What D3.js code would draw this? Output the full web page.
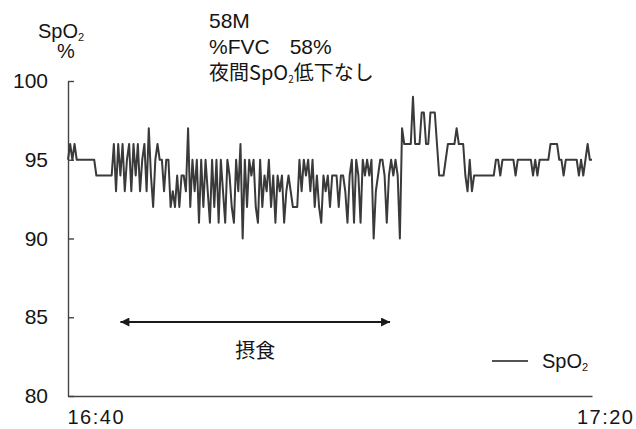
<!DOCTYPE html>
<html>
<head>
<meta charset="utf-8">
<script src="https://cdn.jsdelivr.net/npm/d3@7"></script>
<style>
  body { margin: 0; background: #fff; }
  text { font-family: "Liberation Sans", Arial, Helvetica, sans-serif; fill: #151515; }
  .jp { font-family: "Noto Sans CJK JP", "Noto Sans", sans-serif; }
</style>
</head>
<body>
<svg id="chart" width="636" height="429"></svg>
<script>
// Recording window and sampling
const startTime = new Date(2000, 0, 1, 16, 40, 0);
const endTime = new Date(2000, 0, 1, 17, 20, 0);
const sampleSeconds = 10;

// SpO2 (%) readings, one every 10 s from 16:40
const spo2Values = [
  95,96,95,96,95,95,95,95,95,95,
  95,95,95,94,94,94,94,94,94,94,
  94,96,93,96,94,96,93,95,96,93,
  96,94,96,93,95,96,93,97,94,92,
  95,96,95,95,93,95,95,92,93,92,
  94,92,94,94,93,97,92,95,93,95,
  91,95,92,95,93,91,95,92,95,91,
  95,93,91,95,94,92,91,95,93,96,
  90,95,92,95,94,95,92,91,95,92,
  94,93,95,92,94,91,94,93,94,91,
  93,94,93,92,92,92,95,93,95,94,
  95,93,95,92,94,92,91,94,93,94,
  92,94,94,94,92,94,94,93,91,94,
  95,91,95,94,91,95,94,95,94,95,
  90,93,94,95,95,94,91,94,95,94,
  95,94,90,97,96,96,96,96,99,96,
  96,96,98,98,96,96,98,98,98,96,
  94,94,94,95,96,96,96,96,97,96,
  96,96,94,93,95,93,94,94,94,94,
  94,94,94,94,94,94,95,95,94,95,
  95,95,95,95,95,94,95,95,95,95,
  95,95,95,94,95,94,95,95,95,95,
  95,96,96,96,96,95,95,94,95,95,
  95,95,95,95,94,95,94,95,96,95,
  95
];

// Axis ticks and labels
const yTicks = [80, 85, 90, 95, 100];
const xTickLabels = ["16:40", "17:20"];

// Meal period annotation
const mealStart = new Date(2000, 0, 1, 16, 44, 0);
const mealEnd = new Date(2000, 0, 1, 17, 4, 35);
const mealLabel = "摂食";

// Patient header
const headerLines = ["58M", "%FVC", "58%", "夜間SpO", "低下なし"];

const svg = d3.select("#chart");
svg.append("rect").attr("width", 636).attr("height", 429).attr("fill", "#fff");

const x = d3.scaleTime().domain([startTime, endTime]).range([68, 592]);
const y = d3.scaleLinear().domain([80, 100]).range([396, 81]);

const timeAt = i => new Date(startTime.getTime() + i * sampleSeconds * 1000);

// Y axis: ticks point into the plot
const yAxis = svg.append("g")
  .attr("transform", "translate(68,0)")
  .call(d3.axisLeft(y).tickValues(yTicks).tickSize(-6).tickSizeOuter(0).tickPadding(20));
yAxis.selectAll("text").attr("font-size", 21).attr("fill", "#151515")
  .style("font-family", '"Liberation Sans", Arial, sans-serif');

// X axis with only the start/end time labels
const xAxis = svg.append("g")
  .attr("transform", "translate(0,396)")
  .call(d3.axisBottom(x).tickValues([startTime, endTime]).tickSize(0).tickPadding(14)
    .tickFormat((d, i) => xTickLabels[i]));
xAxis.selectAll("text").attr("font-size", 20).attr("fill", "#151515")
  .attr("letter-spacing", 1.5)
  .style("font-family", '"Liberation Sans", Arial, sans-serif')
  .attr("text-anchor", (d, i) => i === 0 ? "start" : "end")
  .attr("dx", (d, i) => i === 0 ? -1 : 42);

[yAxis, xAxis].forEach(g => {
  g.select(".domain").attr("stroke", "#444").attr("stroke-width", 1.4);
  g.selectAll(".tick line").attr("stroke", "#444").attr("stroke-width", 1.4);
});

// SpO2 trace
const line = d3.line()
  .x((d, i) => x(timeAt(i)))
  .y(d => y(d));
svg.append("path")
  .datum(spo2Values)
  .attr("d", line)
  .attr("fill", "none")
  .attr("stroke", "#3a3a3a")
  .attr("stroke-width", 2)
  .attr("stroke-linejoin", "round");

// Y axis title
const yTitle = svg.append("text").attr("x", 38).attr("y", 38).attr("font-size", 20);
yTitle.append("tspan").text("SpO");
yTitle.append("tspan").attr("font-size", 11).attr("dy", 3).text("2");
svg.append("text").attr("x", 66).attr("y", 58).attr("font-size", 20)
  .attr("text-anchor", "middle").text("%");

// Header
svg.append("text").attr("x", 209).attr("y", 28).attr("font-size", 21).text(headerLines[0]);
const h2 = svg.append("text").attr("x", 209).attr("y", 54).attr("font-size", 21);
h2.append("tspan").text(headerLines[1]);
h2.append("tspan").attr("dx", 20).text(headerLines[2]);
const h3 = svg.append("text").attr("class", "jp").attr("x", 209).attr("y", 80).attr("font-size", 20);
h3.append("tspan").text(headerLines[3]);
h3.append("tspan").attr("font-size", 10).attr("dy", 3).text("2");
h3.append("tspan").attr("dy", -3).text(headerLines[4]);

// Meal arrow
const defs = svg.append("defs");
["start", "end"].forEach(k => {
  defs.append("marker")
    .attr("id", "arrow-" + k)
    .attr("viewBox", "0 0 10 10")
    .attr("refX", k === "end" ? 10 : 0).attr("refY", 5)
    .attr("markerWidth", 10).attr("markerHeight", 9)
    .attr("markerUnits", "userSpaceOnUse")
    .attr("orient", "auto")
    .append("path")
    .attr("d", k === "end" ? "M0,0 L10,5 L0,10 Z" : "M10,0 L0,5 L10,10 Z")
    .attr("fill", "#1a1a1a");
});
svg.append("line")
  .attr("x1", x(mealStart)).attr("x2", x(mealEnd))
  .attr("y1", 322).attr("y2", 322)
  .attr("stroke", "#1a1a1a").attr("stroke-width", 1.8)
  .attr("marker-start", "url(#arrow-start)")
  .attr("marker-end", "url(#arrow-end)");
svg.append("text").attr("class", "jp")
  .attr("x", (x(mealStart) + x(mealEnd)) / 2).attr("y", 358)
  .attr("font-size", 20).attr("text-anchor", "middle").text(mealLabel);

// Legend
svg.append("line").attr("x1", 492).attr("x2", 528).attr("y1", 361).attr("y2", 361)
  .attr("stroke", "#1a1a1a").attr("stroke-width", 1.5);
const lg = svg.append("text").attr("x", 542).attr("y", 368).attr("font-size", 20);
lg.append("tspan").text("SpO");
lg.append("tspan").attr("font-size", 11).attr("dy", 3).text("2");
</script>
</body>
</html>
